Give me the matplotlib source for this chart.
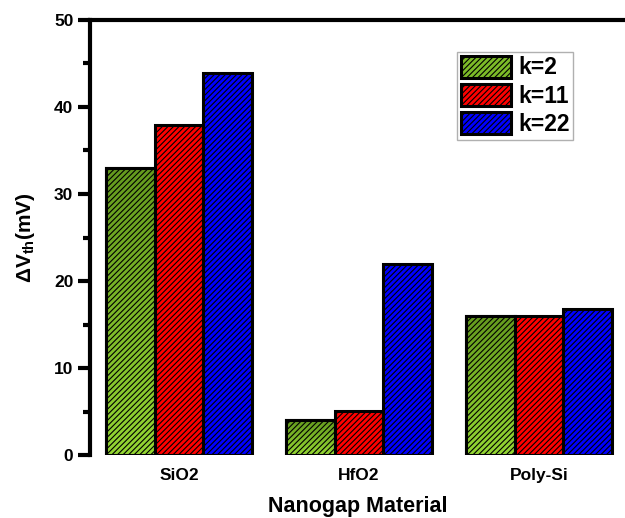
import matplotlib
matplotlib.use('Agg')
import matplotlib.pyplot as plt
from matplotlib.patches import Patch
import numpy as np

plt.rcParams['font.family'] = 'Liberation Sans'
plt.rcParams['font.weight'] = 'bold'
plt.rcParams['axes.labelweight'] = 'bold'
plt.rcParams['mathtext.fontset'] = 'custom'
plt.rcParams['mathtext.rm'] = 'Liberation Sans:bold'
plt.rcParams['mathtext.it'] = 'Liberation Sans:bold'
plt.rcParams['mathtext.bf'] = 'Liberation Sans:bold'
plt.rcParams['mathtext.sf'] = 'Liberation Sans'
plt.rcParams['hatch.linewidth'] = 0.8

# data
materials = ['SiO2', 'HfO2', 'Poly-Si']
k2 = [33.0, 4.0, 16.0]
k11 = [37.9, 5.1, 16.0]
k22 = [43.9, 22.0, 16.8]
series_labels = ['k=2', 'k=11', 'k=22']

fig = plt.figure(figsize=(6.25, 5.18), dpi=100)
ax = fig.add_axes([0.144, 0.1216, 0.856, 0.8398])

x = np.arange(len(materials))
w = 0.27
offsets = [-w, 0, w]
colors = ['#7cbb28', '#ff0000', '#0000ff']
hatch = '//////'

# green bars get a vertical gradient (light at the bottom)
green_bars = ax.bar(x + offsets[0], k2, w, color='#7cbb28', edgecolor='black',
                    linewidth=2.2, zorder=3)
grad = np.linspace(0, 1, 256).reshape(-1, 1)
cmap = matplotlib.colors.LinearSegmentedColormap.from_list('g', ['#94d633', '#649a1e'])
for b in green_bars:
    bx, by = b.get_x(), b.get_y()
    bw, bh = b.get_width(), b.get_height()
    im = ax.imshow(grad, cmap=cmap, aspect='auto', origin='lower',
                   extent=[bx, bx + bw, by, by + bh], zorder=3.5)
    im.set_clip_path(b)
    ax.bar(bx + bw / 2, bh, bw, facecolor='none', edgecolor='black',
           linewidth=2.2, hatch=hatch, zorder=4)

ax.bar(x + offsets[1], k11, w, color=colors[1], edgecolor='black',
       linewidth=2.2, hatch=hatch, zorder=4)
ax.bar(x + offsets[2], k22, w, color=colors[2], edgecolor='black',
       linewidth=2.2, hatch=hatch, zorder=4)

ax.set_xlim(-0.494, 2.478)
ax.set_ylim(0, 50)

for s in ['right', 'bottom']:
    ax.spines[s].set_visible(False)
for s in ['left', 'top']:
    ax.spines[s].set_linewidth(3)

ax.set_yticks([0, 10, 20, 30, 40, 50])
ax.set_yticks([5, 15, 25, 35, 45], minor=True)
ax.tick_params(axis='y', which='major', length=9, width=3, labelsize=12.5, pad=3)
ax.tick_params(axis='y', which='minor', length=5, width=3)
ax.set_xticks(x)
ax.set_xticklabels(materials)
ax.tick_params(axis='x', length=0, labelsize=12.5, pad=9)

ax.set_ylabel(r'$\mathsf{\Delta}$V$_{th}$(mV)', fontsize=15, labelpad=12)
ax.set_xlabel('Nanogap Material', fontsize=15.5, labelpad=10)

handles = [Patch(facecolor=c, edgecolor='black', linewidth=2.2, hatch=hatch) for c in colors]
leg = ax.legend(handles, series_labels, loc='upper right', bbox_to_anchor=(0.903, 0.926),
                borderaxespad=0, fontsize=16.5, handlelength=2.2, handleheight=1.1,
                labelspacing=0.2, handletextpad=0.3, borderpad=0.15, fancybox=False,
                framealpha=1)
leg.get_frame().set_edgecolor('#b0b0b0')
leg.get_frame().set_linewidth(1)

fig.savefig('out.png', dpi=100)
